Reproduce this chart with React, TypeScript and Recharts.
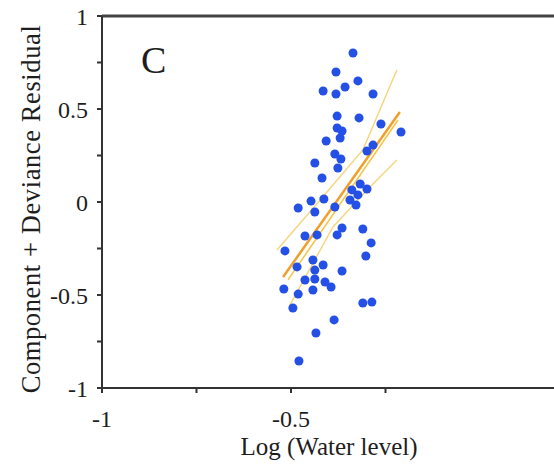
import { ComposedChart, Scatter, XAxis, YAxis, ReferenceLine, Label } from 'recharts';

// residual points
const residX = [
  -0.336, -0.381, -0.323, -0.357, -0.415, -0.381, -0.283, -0.378, -0.32, -0.262,
  -0.378, -0.365, -0.209, -0.37, -0.407, -0.283, -0.299, -0.384, -0.368, -0.437,
  -0.376, -0.418, -0.317, -0.339, -0.299, -0.323, -0.447, -0.413, -0.344, -0.481,
  -0.437, -0.384, -0.328, -0.365, -0.378, -0.31, -0.463, -0.431, -0.288, -0.516,
  -0.302, -0.442, -0.484, -0.415, -0.365, -0.437, -0.463, -0.437, -0.41, -0.394,
  -0.519, -0.481, -0.442, -0.495, -0.31, -0.286, -0.386, -0.434, -0.479,
];
const residY = [
  0.801, 0.699, 0.651, 0.618, 0.597, 0.581, 0.581, 0.462, 0.452, 0.419,
  0.398, 0.382, 0.376, 0.344, 0.328, 0.306, 0.274, 0.258, 0.231, 0.21,
  0.183, 0.129, 0.097, 0.065, 0.07, 0.038, 0.005, 0.016, 0.011, -0.032,
  -0.054, -0.027, -0.016, -0.14, -0.177, -0.145, -0.183, -0.177, -0.22, -0.263,
  -0.29, -0.312, -0.349, -0.339, -0.371, -0.366, -0.419, -0.414, -0.43, -0.457,
  -0.468, -0.495, -0.473, -0.57, -0.543, -0.538, -0.634, -0.704, -0.855,
];

// fitted line, smoother and confidence band
const fitX = [-0.521, -0.212];
const fitY = [-0.403, 0.484];
const smoothX = [-0.508, -0.217];
const smoothY = [-0.419, 0.441];
const upperX = [-0.537, -0.423, -0.31, -0.22];
const upperY = [-0.258, 0.011, 0.28, 0.71];
const lowerX = [-0.503, -0.389, -0.291, -0.22];
const lowerY = [-0.554, -0.134, 0.081, 0.226];

const xTicks = [-1, -0.75, -0.5, -0.25];
const yTicks = [-1, -0.75, -0.5, -0.25, 0, 0.25, 0.5, 0.75, 1];

const zip = (xs: number[], ys: number[]) => xs.map((x, i) => ({ x, y: ys[i] }));

const points = zip(residX, residY);
const fit = zip(fitX, fitY);
const smooth = zip(smoothX, smoothY);
const upper = zip(upperX, upperY);
const lower = zip(lowerX, lowerY);

const serif = '"Liberation Serif", "Times New Roman", serif';
const halfStep = (v: number) => (Number.isInteger(v * 2) ? String(v) : '');
const axisStroke = { stroke: '#333', strokeWidth: 2 };
const tickStyle = { fontSize: 24, fontFamily: serif, fill: '#1e1e1e' };

const XTitle = ({ viewBox }: any) => (
  <text x={viewBox.x + 227} y={viewBox.y + 67} textAnchor="middle" fontSize={25} fontFamily={serif} fill="#1e1e1e">
    Log (Water level)
  </text>
);

const YTitle = ({ viewBox }: any) => {
  const cx = viewBox.x + 40;
  const cy = viewBox.y + 193;
  return (
    <text
      x={cx}
      y={cy}
      transform={`rotate(-90 ${cx} ${cy})`}
      textAnchor="middle"
      fontSize={26.5}
      letterSpacing={0.6}
      fontFamily={serif}
      fill="#1e1e1e"
    >
      Component + Deviance Residual
    </text>
  );
};

const noShape = () => <g />;

export default function App() {
  return (
    <div style={{ position: 'absolute', left: 0, top: 0, width: 554, height: 464, overflow: 'hidden', background: '#fff' }}>
      <ComposedChart width={580} height={464} margin={{ top: 16, right: 5.5, bottom: 0, left: 0 }}>
        <XAxis
          type="number"
          dataKey="x"
          domain={[-1, 0.25]}
          allowDataOverflow
          ticks={xTicks}
          tickFormatter={halfStep}
          height={76}
          axisLine={axisStroke}
          tickLine={axisStroke}
          tickSize={5}
          tickMargin={17}
          tick={tickStyle}
        >
          <Label content={XTitle} />
        </XAxis>
        <YAxis
          type="number"
          dataKey="y"
          domain={[-1, 1]}
          allowDataOverflow
          ticks={yTicks}
          tickFormatter={halfStep}
          width={102}
          axisLine={axisStroke}
          tickLine={axisStroke}
          tickSize={5}
          tickMargin={9}
          tick={tickStyle}
        >
          <Label content={YTitle} />
        </YAxis>
        <ReferenceLine y={1} stroke="#444" strokeWidth={3} />
        <Scatter data={upper} line={{ stroke: '#f5d680', strokeWidth: 1.5 }} shape={noShape} isAnimationActive={false} />
        <Scatter data={lower} line={{ stroke: '#f5d680', strokeWidth: 1.5 }} shape={noShape} isAnimationActive={false} />
        <Scatter data={smooth} line={{ stroke: '#f6c445', strokeWidth: 1.5 }} shape={noShape} isAnimationActive={false} />
        <Scatter data={fit} line={{ stroke: '#f0a02a', strokeWidth: 2.5 }} shape={noShape} isAnimationActive={false} />
        <Scatter data={points} fill="#2450e6" isAnimationActive={false} />
      </ComposedChart>
      <div style={{ position: 'absolute', left: 141, top: 41, fontSize: 38, lineHeight: 1, fontFamily: serif, color: '#1e1e1e' }}>C</div>
    </div>
  );
}
